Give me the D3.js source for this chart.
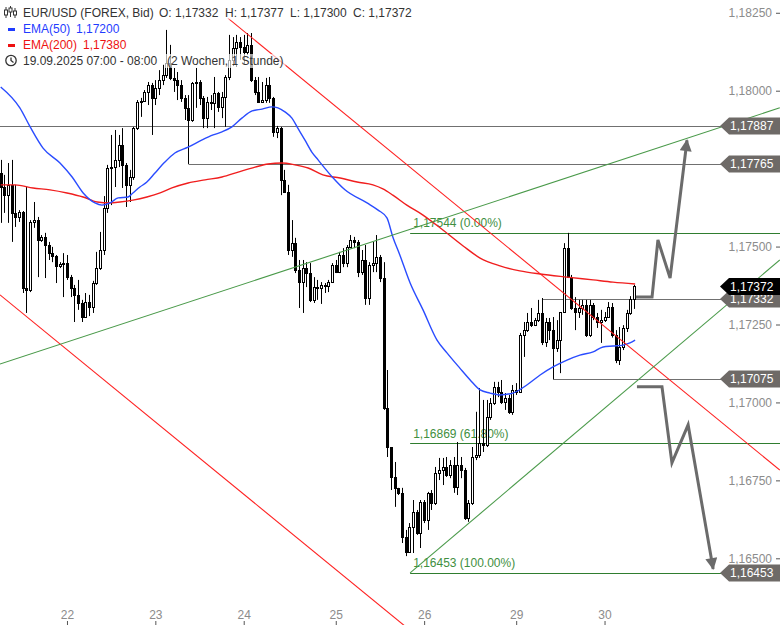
<!DOCTYPE html>
<html><head><meta charset="utf-8">
<script src="https://cdn.jsdelivr.net/npm/d3@7"></script>
<style>body{margin:0;background:#fff;overflow:hidden}svg{display:block;font-family:"Liberation Sans",Arial,sans-serif}</style>
</head><body><svg id="c" width="780" height="625"></svg>
<script>
// ---------- DATA ----------
const firstOpen = 1.17736;
const highs = [
1.17778,1.17730,1.17768,1.17778,1.17698,1.17617,1.17614,1.17691,1.17585,1.17643,
1.17595,1.17537,1.17544,1.17515,1.17499,1.17473,1.17450,1.17479,1.17473,1.17409,
1.17377,1.17393,1.17329,1.17351,1.17345,1.17390,1.17483,1.17547,1.17662,1.17762,
1.17858,1.17874,1.17858,1.17880,1.17768,1.17746,1.17884,1.17970,1.17977,1.18002,
1.18028,1.18025,1.18034,1.18066,1.18083,1.18195,1.18147,1.18073,1.18060,1.18034,
1.17986,1.17986,1.18028,1.18073,1.18034,1.17983,1.17980,1.17986,1.18044,1.17996,
1.17996,1.18050,1.18179,1.18172,1.18179,1.18172,1.18179,1.18185,1.18185,1.18044,
1.18044,1.18028,1.18041,1.18044,1.17980,1.17887,1.17884,1.17746,1.17698,1.17585,
1.17528,1.17457,1.17457,1.17450,1.17447,1.17402,1.17393,1.17386,1.17383,1.17393,
1.17447,1.17457,1.17483,1.17495,1.17505,1.17537,1.17531,1.17521,1.17489,1.17505,
1.17450,1.17515,1.17537,1.17473,1.17450,1.17104,1.16857,1.16809,1.16726,1.16726,
1.16591,1.16613,1.16687,1.16655,1.16687,1.16687,1.16713,1.16719,1.16793,1.16822,
1.16822,1.16825,1.16815,1.16825,1.16873,1.16825,1.16790,1.16687,1.16857,1.16970,
1.17046,1.17008,1.17008,1.17014,1.17066,1.17066,1.17072,1.17030,1.17024,1.17056,
1.17062,1.17223,1.17258,1.17287,1.17303,1.17271,1.17329,1.17335,1.17271,1.17271,
1.17274,1.17264,1.17290,1.17511,1.17544,1.17409,1.17338,1.17329,1.17329,1.17329,
1.17329,1.17319,1.17287,1.17297,1.17290,1.17322,1.17319,1.17232,1.17242,1.17248,
1.17297,1.17341,1.17377];
const lows = [
1.17576,1.17608,1.17576,1.17515,1.17563,1.17579,1.17351,1.17287,1.17354,1.17560,
1.17402,1.17515,1.17399,1.17457,1.17450,1.17383,1.17431,1.17338,1.17393,1.17338,
1.17258,1.17297,1.17258,1.17271,1.17277,1.17287,1.17377,1.17425,1.17473,1.17608,
1.17633,1.17691,1.17755,1.17688,1.17627,1.17643,1.17714,1.17874,1.17916,1.17964,
1.17954,1.17858,1.17954,1.17986,1.18018,1.18041,1.18034,1.17996,1.17970,1.17964,
1.17906,1.17765,1.17900,1.17945,1.17954,1.17880,1.17880,1.17938,1.17880,1.17932,
1.17912,1.17884,1.18034,1.18079,1.18076,1.18099,1.18083,1.18115,1.18028,1.17986,
1.17961,1.17961,1.17961,1.17961,1.17852,1.17848,1.17665,1.17672,1.17473,1.17467,
1.17415,1.17303,1.17287,1.17370,1.17322,1.17319,1.17329,1.17316,1.17351,1.17354,
1.17383,1.17415,1.17415,1.17434,1.17434,1.17495,1.17495,1.17402,1.17409,1.17313,
1.17313,1.17418,1.17418,1.17386,1.16976,1.16825,1.16719,1.16665,1.16703,1.16549,
1.16507,1.16517,1.16517,1.16575,1.16533,1.16613,1.16591,1.16655,1.16671,1.16751,
1.16735,1.16761,1.16757,1.16710,1.16703,1.16757,1.16623,1.16617,1.16671,1.16815,
1.16822,1.16841,1.16857,1.16944,1.16992,1.17017,1.16995,1.16976,1.16963,1.16960,
1.17024,1.17034,1.17146,1.17226,1.17242,1.17245,1.17258,1.17184,1.17178,1.17200,
1.17075,1.17162,1.17094,1.17287,1.17399,1.17297,1.17232,1.17271,1.17281,1.17210,
1.17210,1.17264,1.17239,1.17191,1.17258,1.17271,1.17208,1.17126,1.17120,1.17168,
1.17226,1.17281,1.17300];
const closes = [
1.17691,1.17665,1.17698,1.17608,1.17595,1.17611,1.17367,1.17361,1.17579,1.17585,
1.17521,1.17531,1.17505,1.17479,1.17470,1.17438,1.17444,1.17447,1.17402,1.17367,
1.17345,1.17319,1.17274,1.17322,1.17306,1.17383,1.17431,1.17489,1.17624,1.17752,
1.17755,1.17778,1.17826,1.17762,1.17698,1.17723,1.17880,1.17964,1.17967,1.17996,
1.18018,1.17977,1.18009,1.18034,1.18050,1.18089,1.18041,1.18034,1.18018,1.17977,
1.17945,1.17906,1.18025,1.18028,1.17977,1.17912,1.17964,1.17961,1.17993,1.17948,
1.17980,1.18044,1.18099,1.18137,1.18156,1.18140,1.18124,1.18147,1.18034,1.17996,
1.17964,1.17970,1.18018,1.17977,1.17868,1.17880,1.17714,1.17675,1.17489,1.17511,
1.17425,1.17386,1.17431,1.17415,1.17329,1.17370,1.17367,1.17377,1.17374,1.17386,
1.17441,1.17418,1.17473,1.17447,1.17499,1.17521,1.17515,1.17418,1.17457,1.17335,
1.17441,1.17447,1.17467,1.17399,1.16982,1.16857,1.16761,1.16726,1.16710,1.16568,
1.16520,1.16600,1.16649,1.16581,1.16681,1.16623,1.16710,1.16677,1.16774,1.16783,
1.16793,1.16767,1.16799,1.16729,1.16799,1.16783,1.16629,1.16677,1.16825,1.16831,
1.16870,1.16863,1.16953,1.16999,1.17050,1.17034,1.17002,1.17014,1.16970,1.17040,
1.17034,1.17216,1.17232,1.17258,1.17248,1.17264,1.17287,1.17194,1.17258,1.17232,
1.17175,1.17200,1.17290,1.17495,1.17402,1.17303,1.17290,1.17303,1.17313,1.17216,
1.17313,1.17274,1.17258,1.17264,1.17274,1.17306,1.17216,1.17136,1.17178,1.17239,
1.17287,1.17332,1.17372];

// EMA lines: [candle index, price]
const ema50 = [[0,1.18012],[5.2,1.17945],[8,1.17884],[11.5,1.17816],[16.1,1.17768],[19.4,1.17723],[22.4,1.17672],[25.6,1.17640],[27.5,1.17633],[29.7,1.17640],[31.9,1.17656],[34.6,1.17659],[35.9,1.17672],[37.8,1.17691],[39.7,1.17707],[41.9,1.17736],[44.6,1.17771],[47.3,1.17800],[50.9,1.17819],[54.7,1.17842],[57.7,1.17858],[60.1,1.17868],[62.8,1.17884],[65.5,1.17912],[68.3,1.17935],[71,1.17941],[73.7,1.17948],[75.3,1.17945],[77.2,1.17932],[79.1,1.17912],[80.7,1.17880],[82.6,1.17842],[84.5,1.17803],[86.2,1.17778],[90.3,1.17720],[93.5,1.17682],[99.5,1.17640],[102.5,1.17617],[104.9,1.17592],[106.5,1.17531],[108.4,1.17473],[111.2,1.17383],[114.7,1.17297],[118.5,1.17200],[121.2,1.17159],[124.7,1.17110],[127.5,1.17072],[130.2,1.17040],[132.9,1.17030],[135.6,1.17024],[139.1,1.17030],[142.9,1.17056],[146.5,1.17088],[150,1.17114],[153.8,1.17136],[157.3,1.17152],[160.9,1.17162],[163.6,1.17178],[166.3,1.17181],[169,1.17184],[170.9,1.17191],[172.3,1.17200]];
const ema200 = [[0,1.17698],[3.9,1.17698],[8.8,1.17688],[13.4,1.17682],[18,1.17672],[22.4,1.17659],[26.2,1.17643],[29.7,1.17640],[32.4,1.17643],[35.9,1.17649],[39.7,1.17659],[43.3,1.17672],[46.5,1.17688],[50.9,1.17704],[55.5,1.17714],[60.1,1.17723],[64.5,1.17739],[69.1,1.17755],[72.6,1.17765],[76.4,1.17768],[79.9,1.17762],[83.5,1.17752],[87.5,1.17730],[92.2,1.17720],[96.8,1.17707],[101.1,1.17698],[103.8,1.17685],[106.5,1.17665],[110.3,1.17633],[114.7,1.17601],[120.1,1.17553],[125.6,1.17502],[130.2,1.17463],[135.6,1.17438],[141,1.17422],[146.5,1.17412],[153.8,1.17402],[160.9,1.17393],[166.3,1.17386],[172.3,1.17380]];

const dayTicks = [18, 42, 66, 91, 115, 140, 164];
const dayLabels = ["22","23","24","25","26","29","30"];
const priceTicks = [1.1825, 1.18, 1.175, 1.1725, 1.17, 1.1675, 1.165];

const redTrendUpper = [[61.7,1.18233],[211.6,1.16783]];
const redTrendLower = [[-0.2,1.17345],[111.4,1.16267]];
const greenTrendLong = [[-0.2,1.17123],[211.6,1.17945]];
const greenTrendLow = [[111.2,1.16453],[211.6,1.17457]];

const fibPrices = [1.17544, 1.16869, 1.16453];
const fibPct = ["0.00%", "61.80%", "100.00%"];
const fibStart = 111.2;

const levelPrices = [1.17887, 1.17765, 1.17332, 1.17075];
const levelStarts = [-1, 51, 147, 150];
const lastPrice = 1.17372;

const arrowUp = [[172.5,1.17338],[176.9,1.17338],[178.5,1.17521],[181.8,1.17399],[186.4,1.17841]];
const arrowDown = [[172.8,1.17050],[179.6,1.17050],[182.3,1.16806],[186.7,1.16928],[193.5,1.16466]];

// ---------- CHART ----------
const svg = d3.select("#c");
const W = 780, H = 625;
const x = d3.scaleLinear().domain([0, 172]).range([0.7, 634]);
const y = d3.scaleLinear().domain([1.165, 1.18]).range([558.3, 90.7]);
const fmt = v => d3.format(".5f")(v).replace(".", ",");
const line = d3.line().x(d => x(d[0])).y(d => y(d[1]));

const candles = closes.map((c, i) => {
  const o = i === 0 ? firstOpen : closes[i - 1];
  return {i, o, c, h: Math.max(highs[i], o, c), l: Math.min(lows[i], o, c)};
});

// defs
const defs = svg.append("defs");
defs.append("marker").attr("id","ah").attr("viewBox","0 0 10 10").attr("refX",9).attr("refY",5)
  .attr("markerWidth",13).attr("markerHeight",12).attr("markerUnits","userSpaceOnUse").attr("orient","auto")
  .append("path").attr("d","M0,0 L10,5 L0,10 z").attr("fill","#6b6b6b");

// axes
const yAxis = d3.axisLeft(y).tickValues(priceTicks).tickSize(4).tickPadding(4).tickFormat(fmt);
const gy = svg.append("g").attr("transform", `translate(${W},0)`).call(yAxis);
gy.select(".domain").remove();
gy.selectAll("line").attr("stroke","#555");
gy.selectAll("text").attr("fill","#8c8c8c").attr("font-size",12).attr("font-family","Liberation Sans, Arial, sans-serif");

const xAxis = d3.axisTop(x).tickValues(dayTicks).tickSize(4).tickPadding(2).tickFormat((d, k) => dayLabels[k]);
const gx = svg.append("g").attr("transform", `translate(0,${H})`).call(xAxis);
gx.select(".domain").remove();
gx.selectAll("line").attr("stroke","#555");
gx.selectAll("text").attr("fill","#8c8c8c").attr("font-size",12).attr("font-family","Liberation Sans, Arial, sans-serif");

// horizontal gray levels
svg.append("g").selectAll("line").data(levelPrices).join("line")
  .attr("x1", (d, k) => Math.max(0, x(levelStarts[k]))).attr("x2", W)
  .attr("y1", d => Math.round(y(d)) + 0.5).attr("y2", d => Math.round(y(d)) + 0.5)
  .attr("stroke", "#707070").attr("stroke-width", 1);

// fib lines
const gf = svg.append("g");
gf.selectAll("line").data(fibPrices).join("line")
  .attr("x1", x(fibStart)).attr("x2", W)
  .attr("y1", d => Math.round(y(d)) + 0.5).attr("y2", d => Math.round(y(d)) + 0.5)
  .attr("stroke", "#2f7d2f").attr("stroke-width", 1.2);
gf.selectAll("text").data(fibPrices).join("text")
  .attr("x", x(fibStart) + 3).attr("y", d => y(d) - 5.5)
  .attr("fill", "#3f8f3f").attr("font-size", 12)
  .text((d, k) => `${fmt(d)} (${fibPct[k]})`);

// candles
const gc = svg.append("g");
candles.forEach(d => {
  const cx = Math.round(x(d.i));
  gc.append("line").attr("x1", cx + 0.5).attr("x2", cx + 0.5)
    .attr("y1", y(d.h)).attr("y2", y(d.l)).attr("stroke", "#000").attr("stroke-width", 1);
  const top = Math.round(y(Math.max(d.o, d.c))) + 0.5;
  const bot = Math.max(top + 1, Math.round(y(Math.min(d.o, d.c))) + 0.5);
  gc.append("rect").attr("x", cx - 0.5).attr("width", 2)
    .attr("y", top).attr("height", bot - top)
    .attr("fill", d.c >= d.o ? "#fff" : "#000").attr("stroke", "#000").attr("stroke-width", 1);
});

// EMA lines
const curved = d3.line().x(d => x(d[0])).y(d => y(d[1])).curve(d3.curveMonotoneX);
svg.append("path").attr("d", curved(ema200)).attr("fill","none").attr("stroke","#f01e1e").attr("stroke-width",1.4);
svg.append("path").attr("d", curved(ema50)).attr("fill","none").attr("stroke","#2a4cff").attr("stroke-width",1.4);

// trend lines
[[redTrendUpper,"#ff2020"],[redTrendLower,"#ff2020"],[greenTrendLong,"#4a9a4a"],[greenTrendLow,"#4a9a4a"]].forEach(([pts,col]) => {
  svg.append("path").attr("d", line(pts)).attr("fill","none").attr("stroke",col).attr("stroke-width",1.1);
});

// projection arrows
[arrowUp, arrowDown].forEach(pts => {
  svg.append("path").attr("d", line(pts)).attr("fill","none").attr("stroke","#6b6b6b")
    .attr("stroke-width",3).attr("stroke-linejoin","miter").attr("marker-end","url(#ah)");
});

// price labels
function priceLabel(p, bg) {
  const cy = y(p);
  const g = svg.append("g");
  g.append("path").attr("d", `M720,${cy} L729,${cy-8.5} L${W},${cy-8.5} L${W},${cy+8.5} L729,${cy+8.5} Z`).attr("fill", bg);
  g.append("text").attr("x", 730).attr("y", cy + 4.3).attr("fill", "#fff").attr("font-size", 12).text(fmt(p));
}
levelPrices.forEach(p => priceLabel(p, "#6e6a67"));
priceLabel(fibPrices[2], "#6e6a67");
priceLabel(lastPrice, "#000");

// legend
const last = candles[candles.length - 1];
const lg = svg.append("g").attr("font-size", 12);
const legendTexts = [
  {x:23, y:16.5, t:"EUR/USD (FOREX, Bid)", c:"#333"},
  {x:159, y:16.5, t:"O: " + fmt(last.o), c:"#333"},
  {x:225, y:16.5, t:"H: " + fmt(last.h), c:"#333"},
  {x:290, y:16.5, t:"L: " + fmt(last.l), c:"#333"},
  {x:353, y:16.5, t:"C: " + fmt(last.c), c:"#333"},
  {x:23, y:32.5, t:"EMA(50)", c:"#1f3cff"},
  {x:76, y:32.5, t:fmt(ema50[ema50.length-1][1]), c:"#1f3cff"},
  {x:23, y:48.5, t:"EMA(200)", c:"#ee1111"},
  {x:83, y:48.5, t:fmt(ema200[ema200.length-1][1]), c:"#ee1111"},
  {x:23, y:65, t:"19.09.2025 07:00 - 08:00", c:"#333"},
  {x:167, y:65, t:"(2 Wochen, 1 Stunde)", c:"#333"}
];
const bgG = lg.append("g");
legendTexts.forEach(d => {
  const t = lg.append("text").attr("x", d.x).attr("y", d.y).attr("fill", d.c).text(d.t);
  const b = t.node().getBBox();
  bgG.append("rect").attr("x", b.x - 2).attr("y", b.y).attr("width", b.width + 4).attr("height", b.height)
    .attr("fill", "#fff").attr("opacity", 0.65);
});
// legend markers
lg.append("rect").attr("x",8).attr("y",28).attr("width",7).attr("height",3).attr("fill","#1f3cff");
lg.append("rect").attr("x",8).attr("y",44).attr("width",7).attr("height",3).attr("fill","#ee1111");
// candle icon
const ic = lg.append("g").attr("stroke","#333").attr("stroke-width",1).attr("fill","none");
[[6,7,18,10,15],[10.5,6,17,8,12],[15,8,18,11,15]].forEach(([cx,y1,y2,b1,b2]) => {
  ic.append("line").attr("x1",cx).attr("x2",cx).attr("y1",y1).attr("y2",y2);
  ic.append("rect").attr("x",cx-1.5).attr("y",b1).attr("width",3).attr("height",b2-b1).attr("fill","#fff");
});
// clock icon
const ck = lg.append("g").attr("stroke","#333").attr("fill","none").attr("stroke-width",1.3);
ck.append("circle").attr("cx",11).attr("cy",60.5).attr("r",5.2);
ck.append("path").attr("d","M11,57.5 L11,60.5 L13.5,62.5");
</script></body></html>
